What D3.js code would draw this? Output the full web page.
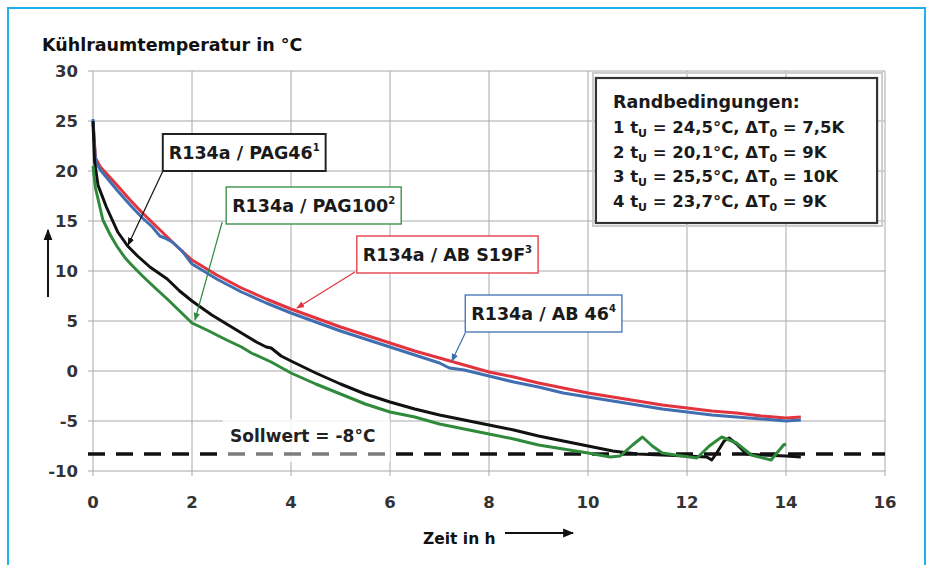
<!DOCTYPE html>
<html>
<head>
<meta charset="utf-8">
<script src="https://cdn.jsdelivr.net/npm/d3@7"></script>
<style>
  body { margin: 0; background: #fff; }
  svg { display: block; font-family: "DejaVu Sans", "Liberation Sans", Arial, sans-serif; }
</style>
</head>
<body>
<div id="chart"></div>
<script>
// ---- data ----
const xTicks = [0, 2, 4, 6, 8, 10, 12, 14, 16];
const yTicks = [-10, -5, 0, 5, 10, 15, 20, 25, 30];

// R134a / PAG46 (black)
const pag46 = [
  [0, 25.0], [0.03, 21.0], [0.1, 18.6], [0.27, 16.4], [0.5, 13.9], [0.7, 12.5],
  [0.9, 11.5], [1.15, 10.4], [1.5, 9.2], [1.75, 8.0], [2, 7.0], [2.4, 5.6],
  [2.8, 4.4], [3.0, 3.8], [3.3, 2.9], [3.5, 2.4], [3.6, 2.3], [3.8, 1.5],
  [4, 1.0], [4.5, -0.2], [5, -1.3], [5.5, -2.3], [6, -3.1], [6.5, -3.8],
  [7, -4.4], [7.5, -4.9], [8, -5.4], [8.5, -5.9], [9, -6.5], [9.5, -7.0],
  [10, -7.5], [10.5, -8.0], [11, -8.3], [11.5, -8.4], [12, -8.5], [12.4, -8.6],
  [12.5, -8.9], [12.6, -8.2], [12.75, -7.0], [12.85, -6.7], [13.0, -7.3],
  [13.2, -8.3], [13.5, -8.4], [14, -8.5], [14.3, -8.6]
];

// R134a / PAG100 (green)
const pag100 = [
  [0, 20.5], [0.05, 18.3], [0.2, 15.1], [0.35, 13.6], [0.48, 12.5], [0.65, 11.3],
  [0.8, 10.5], [1.0, 9.5], [1.3, 8.1], [1.5, 7.2], [1.75, 6.0], [2, 4.8],
  [2.3, 4.1], [2.7, 3.1], [3.0, 2.4], [3.2, 1.8], [3.6, 0.9], [4, -0.2],
  [4.5, -1.3], [5, -2.3], [5.5, -3.3], [6, -4.1], [6.5, -4.6], [7, -5.3],
  [7.6, -5.9], [8, -6.3], [8.5, -6.8], [9, -7.4], [9.5, -7.8], [10, -8.2],
  [10.45, -8.6], [10.65, -8.5], [10.9, -7.4], [11.1, -6.6], [11.3, -7.5],
  [11.5, -8.2], [11.9, -8.5], [12.2, -8.7], [12.45, -7.5], [12.7, -6.6],
  [13.0, -7.2], [13.3, -8.4], [13.7, -8.9], [13.95, -7.4], [14.0, -7.3]
];

// R134a / AB S19F (red)
const abS19F = [
  [0, 24.8], [0.05, 21.3], [0.15, 20.4], [0.3, 19.6], [0.5, 18.5], [0.75, 17.1],
  [1, 15.8], [1.25, 14.6], [1.5, 13.4], [1.75, 12.2], [2, 11.1], [2.5, 9.6],
  [3, 8.3], [3.5, 7.2], [4, 6.2], [4.5, 5.3], [5, 4.4], [5.5, 3.6], [6, 2.8],
  [6.5, 2.0], [7, 1.3], [7.5, 0.6], [8, -0.1], [8.5, -0.6], [9, -1.2],
  [9.5, -1.7], [10, -2.2], [10.5, -2.6], [11, -3.0], [11.5, -3.4], [12, -3.7],
  [12.5, -4.0], [13, -4.2], [13.5, -4.5], [14, -4.7], [14.3, -4.6]
];

// R134a / AB 46 (blue)
const ab46 = [
  [0, 25.2], [0.05, 21.0], [0.15, 20.1], [0.3, 19.2], [0.5, 18.0], [0.75, 16.6],
  [1.0, 15.3], [1.2, 14.4], [1.35, 13.5], [1.45, 13.3], [1.6, 12.9], [1.8, 12.0],
  [2, 10.7], [2.5, 9.2], [3, 7.9], [3.5, 6.8], [4, 5.8], [4.5, 4.9], [5, 4.0],
  [5.5, 3.2], [6, 2.4], [6.5, 1.6], [7, 0.8], [7.2, 0.3], [7.5, 0.1], [8, -0.5],
  [8.5, -1.1], [9, -1.6], [9.5, -2.2], [10, -2.6], [10.5, -3.0], [11, -3.4],
  [11.5, -3.8], [12, -4.1], [12.5, -4.4], [13, -4.6], [13.5, -4.8], [14, -5.0],
  [14.3, -4.9]
];

const sollwert = -8.3;

const seriesColors = ["#111111", "#2f8a3c", "#e2343e", "#3f6fb0"];

// callout labels: box top-left, leader start, leader tip (data units)
const calloutText = ["R134a / PAG46", "R134a / PAG100", "R134a / AB S19F", "R134a / AB 46"];
const calloutSup = ["1", "2", "3", "4"];
const calloutBox = [[1.41, 23.7], [2.69, 18.4], [5.33, 13.5], [7.52, 7.6]];
const calloutFrom = [[1.45, 20.4], [2.61, 14.9], [5.29, 9.9], [7.52, 3.8]];
const calloutTip = [[0.71, 12.6], [2.06, 5.1], [4.12, 6.3], [7.25, 1.0]];

const legendTitle = "Randbedingungen:";
const legendNum = ["1", "2", "3", "4"];
const legendTu = ["24,5", "20,1", "25,5", "23,7"];
const legendDT = ["7,5", "9", "10", "9"];

// ---- layout ----
const width = 930, height = 565;
const margin = { top: 71, right: 45, bottom: 94, left: 93 };
const innerW = width - margin.left - margin.right;
const innerH = height - margin.top - margin.bottom;

const svg = d3.select("#chart").append("svg")
  .attr("width", width).attr("height", height);

// frame
svg.append("rect")
  .attr("x", 8).attr("y", 8).attr("width", 917).attr("height", 600)
  .attr("fill", "none").attr("stroke", "#1fb2ea").attr("stroke-width", 2);

const x = d3.scaleLinear().domain([0, 16]).range([margin.left, margin.left + innerW]);
const y = d3.scaleLinear().domain([-10, 30]).range([margin.top + innerH, margin.top]);

// grid
const grid = svg.append("g").attr("stroke", "#a8a8a8").attr("stroke-width", 1);
grid.selectAll(".h").data(yTicks).join("line")
  .attr("x1", x(0) - 5).attr("x2", x(16))
  .attr("y1", d => y(d)).attr("y2", d => y(d));
grid.selectAll(".v").data(xTicks).join("line")
  .attr("x1", d => x(d)).attr("x2", d => x(d))
  .attr("y1", y(30)).attr("y2", y(-10) + 5);

// tick labels
svg.append("g").selectAll("text").data(yTicks).join("text")
  .attr("x", x(0) - 15).attr("y", d => y(d)).attr("dy", "0.36em")
  .attr("text-anchor", "end").attr("font-size", 16.5).attr("font-weight", "bold")
  .attr("fill", "#333").text(d => d);
svg.append("g").selectAll("text").data(xTicks).join("text")
  .attr("x", d => x(d)).attr("y", y(-10) + 31).attr("dy", "0.36em")
  .attr("text-anchor", "middle").attr("font-size", 16.5).attr("font-weight", "bold")
  .attr("fill", "#333").text(d => d);

// titles
svg.append("text").attr("x", 42).attr("y", 51)
  .attr("font-size", 17.5).attr("font-weight", "bold").attr("fill", "#111")
  .text("Kühlraumtemperatur in °C");
svg.append("text").attr("x", 423).attr("y", 544)
  .attr("font-size", 15.5).attr("font-weight", "bold").attr("fill", "#111")
  .text("Zeit in h");

// markers
const defs = svg.append("defs");
function marker(id, color) {
  defs.append("marker").attr("id", id)
    .attr("viewBox", "0 0 10 10").attr("refX", 9).attr("refY", 5)
    .attr("markerWidth", 8).attr("markerHeight", 8).attr("orient", "auto")
    .attr("markerUnits", "userSpaceOnUse")
    .append("path").attr("d", "M0,1 L10,5 L0,9 Z").attr("fill", color);
}
marker("arr-axis", "#111");
seriesColors.forEach((c, i) => marker("arr-" + i, c));
defs.select("#arr-axis").attr("markerWidth", 11).attr("markerHeight", 11);

// axis direction arrows
svg.append("line").attr("x1", 48).attr("y1", 297).attr("x2", 48).attr("y2", 230)
  .attr("stroke", "#111").attr("stroke-width", 2).attr("marker-end", "url(#arr-axis)");
svg.append("line").attr("x1", 505).attr("y1", 533).attr("x2", 573).attr("y2", 533)
  .attr("stroke", "#111").attr("stroke-width", 2).attr("marker-end", "url(#arr-axis)");

// Sollwert label backing (behind the dashed line)
svg.append("rect").attr("x", x(2.62)).attr("y", y(-4.85))
  .attr("width", x(6.0) - x(2.62)).attr("height", y(-9.1) - y(-4.85))
  .attr("fill", "#fff").attr("opacity", 0.7);

// dashed Sollwert line
svg.append("line").attr("x1", x(0) - 5).attr("x2", x(16))
  .attr("y1", y(sollwert)).attr("y2", y(sollwert))
  .attr("stroke", "#111").attr("stroke-width", 3.5)
  .attr("stroke-dasharray", "17,11");

svg.append("rect").attr("x", x(2.62)).attr("y", y(-4.85))
  .attr("width", x(6.0) - x(2.62)).attr("height", y(-9.1) - y(-4.85))
  .attr("fill", "#fff").attr("opacity", 0.45);
svg.append("text").attr("x", x(2.77)).attr("y", y(-7.1))
  .attr("font-size", 17).attr("font-weight", "bold").attr("fill", "#222")
  .text("Sollwert = -8°C");

// curves
const line = d3.line().x(d => x(d[0])).y(d => y(d[1]));
[abS19F, ab46, pag46, pag100].forEach((s, i) => {
  const ci = [2, 3, 0, 1][i];
  svg.append("path").datum(s)
    .attr("fill", "none").attr("stroke", seriesColors[ci])
    .attr("stroke-width", 3).attr("stroke-linejoin", "round")
    .attr("d", line);
});

// callouts
calloutText.forEach((t, i) => {
  const g = svg.append("g");
  g.append("line")
    .attr("x1", x(calloutFrom[i][0])).attr("y1", y(calloutFrom[i][1]))
    .attr("x2", x(calloutTip[i][0])).attr("y2", y(calloutTip[i][1]))
    .attr("stroke", seriesColors[i]).attr("stroke-width", 1.2)
    .attr("marker-end", `url(#arr-${i})`);
  const bx = x(calloutBox[i][0]), by = y(calloutBox[i][1]);
  const rect = g.append("rect").attr("x", bx).attr("y", by)
    .attr("fill", "#fff").attr("stroke", i === 0 ? "#222" : seriesColors[i])
    .attr("stroke-width", i === 0 ? 2 : 1.3);
  const txt = g.append("text").attr("x", bx + 6).attr("y", by + 25)
    .attr("font-size", 17.5).attr("font-weight", "bold").attr("fill", "#1a1a1a");
  txt.append("tspan").text(t);
  txt.append("tspan").attr("font-size", 10).attr("dy", -8).text(calloutSup[i]);
  const w = txt.node().getComputedTextLength();
  rect.attr("width", w + 12).attr("height", 37);
});

// legend box
const lx = x(10.16), ly = y(29.3);
const lw = x(15.84) - lx, lh = y(14.8) - ly;
svg.append("rect").attr("x", lx - 3).attr("y", ly - 5).attr("width", lw + 8).attr("height", lh + 8)
  .attr("fill", "none").attr("stroke", "#ccc").attr("stroke-width", 2);
svg.append("rect").attr("x", lx).attr("y", ly).attr("width", lw).attr("height", lh)
  .attr("fill", "#fff").attr("stroke", "#333").attr("stroke-width", 2.2);
const lg = svg.append("g").attr("font-weight", "bold").attr("fill", "#1a1a1a");
lg.append("text").attr("x", lx + 17).attr("y", ly + 30).attr("font-size", 17.5).text(legendTitle);
legendNum.forEach((n, i) => {
  const t = lg.append("text").attr("x", lx + 17).attr("y", ly + 55 + i * 24.5)
    .attr("font-size", 16.5);
  t.append("tspan").text(n + " t");
  t.append("tspan").attr("font-size", 11).attr("dy", 4).text("U");
  t.append("tspan").attr("dy", -4).text(` = ${legendTu[i]}°C, ΔT`);
  t.append("tspan").attr("font-size", 11).attr("dy", 4).text("0");
  t.append("tspan").attr("dy", -4).text(` = ${legendDT[i]}K`);
});
</script>
</body>
</html>
